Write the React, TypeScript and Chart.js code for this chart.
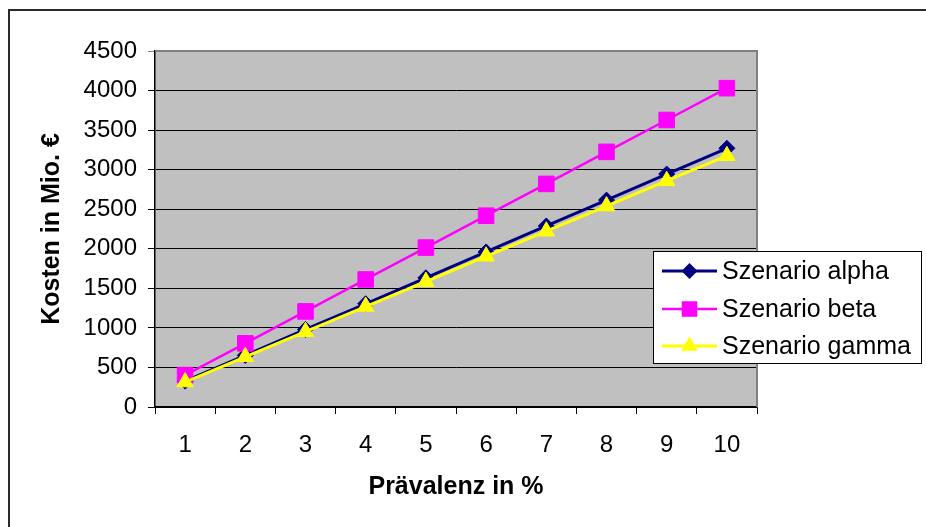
import React, { useEffect, useRef } from 'react';
import { Chart, registerables } from 'chart.js';

Chart.register(...registerables);

const categories = ['1', '2', '3', '4', '5', '6', '7', '8', '9', '10'];
const alphaValues = [327, 652, 980, 1305, 1633, 1960, 2288, 2615, 2945, 3270];
const betaValues = [403, 805, 1208, 1612, 2015, 2418, 2820, 3225, 3628, 4030];
const gammaValues = [315, 635, 952, 1270, 1585, 1905, 2222, 2540, 2860, 3175];
const yTicks = [0, 500, 1000, 1500, 2000, 2500, 3000, 3500, 4000, 4500];
const seriesNames = ['Szenario alpha', 'Szenario beta', 'Szenario gamma'];

const FONT = "'Liberation Sans', Arial, sans-serif";

export default function App() {
  const ref = useRef<HTMLCanvasElement>(null);

  useEffect(() => {
    if (!ref.current) return;

    const plotBg = {
      id: 'plotBg',
      beforeDraw(chart: any) {
        const { ctx, chartArea: a } = chart;
        ctx.save();
        ctx.fillStyle = '#C0C0C0';
        ctx.fillRect(a.left, a.top, a.right - a.left, a.bottom - a.top);
        ctx.restore();
      },
      beforeDatasetsDraw(chart: any) {
        const { ctx, chartArea: a } = chart;
        ctx.save();
        ctx.strokeStyle = '#808080';
        ctx.lineWidth = 2;
        ctx.beginPath();
        ctx.moveTo(a.left, a.top);
        ctx.lineTo(a.right, a.top);
        ctx.lineTo(a.right, a.bottom);
        ctx.stroke();
        ctx.restore();
      },
    };

    const drawMarker = (ctx: CanvasRenderingContext2D, style: string, x: number, y: number, r: number, color: string) => {
      ctx.fillStyle = color;
      ctx.beginPath();
      if (style === 'rectRot') {
        ctx.moveTo(x, y - r);
        ctx.lineTo(x + r, y);
        ctx.lineTo(x, y + r);
        ctx.lineTo(x - r, y);
      } else if (style === 'rect') {
        const s = r * Math.SQRT1_2;
        ctx.rect(x - s, y - s, 2 * s, 2 * s);
      } else {
        ctx.moveTo(x, y - r);
        ctx.lineTo(x + r * Math.sin(Math.PI / 3), y + r / 2);
        ctx.lineTo(x - r * Math.sin(Math.PI / 3), y + r / 2);
      }
      ctx.closePath();
      ctx.fill();
    };

    const customLegend = {
      id: 'customLegend',
      afterDraw(chart: any) {
        const { ctx } = chart;
        const left = 653, top = 251, right = 922, bottom = 364;
        ctx.save();
        ctx.fillStyle = '#FFFFFF';
        ctx.fillRect(left, top, right - left, bottom - top);
        ctx.strokeStyle = '#000000';
        ctx.lineWidth = 1;
        ctx.strokeRect(left + 0.5, top + 0.5, right - left - 1, bottom - top - 1);
        const rows = [271, 309, 346];
        chart.data.datasets.forEach((ds: any, i: number) => {
          const y = rows[i];
          ctx.strokeStyle = ds.borderColor;
          ctx.lineWidth = ds.borderWidth;
          ctx.beginPath();
          ctx.moveTo(662, y);
          ctx.lineTo(717, y);
          ctx.stroke();
          drawMarker(ctx, ds.pointStyle, 689.5, y, ds.pointRadius, ds.pointBackgroundColor);
          ctx.fillStyle = '#000000';
          ctx.font = `25px ${FONT}`;
          ctx.textBaseline = 'middle';
          ctx.textAlign = 'left';
          ctx.fillText(ds.label, 722, y + 1);
        });
        ctx.restore();
      },
    };

    const chart = new Chart(ref.current, {
      type: 'line',
      data: {
        labels: categories,
        datasets: [
          {
            label: seriesNames[0],
            data: alphaValues,
            borderColor: '#000080',
            backgroundColor: '#000080',
            pointBackgroundColor: '#000080',
            pointBorderColor: '#000080',
            borderWidth: 3,
            pointStyle: 'rectRot',
            pointRadius: 8,
            pointBorderWidth: 1,
            order: 2,
          },
          {
            label: seriesNames[1],
            data: betaValues,
            borderColor: '#FF00FF',
            backgroundColor: '#FF00FF',
            pointBackgroundColor: '#FF00FF',
            pointBorderColor: '#FF00FF',
            borderWidth: 2.5,
            pointStyle: 'rect',
            pointRadius: 11,
            pointBorderWidth: 1,
            order: 1,
          },
          {
            label: seriesNames[2],
            data: gammaValues,
            borderColor: '#FFFF00',
            backgroundColor: '#FFFF00',
            pointBackgroundColor: '#FFFF00',
            pointBorderColor: '#FFFF00',
            borderWidth: 3,
            pointStyle: 'triangle',
            pointRadius: 9.5,
            pointBorderWidth: 1,
            order: 0,
          },
        ],
      },
      options: {
        responsive: false,
        animation: false,
        devicePixelRatio: 1,
        layout: { padding: { top: 51, right: 169, bottom: 0, left: 0 } },
        plugins: {
          legend: { display: false },
          tooltip: { enabled: false },
        },
        scales: {
          x: {
            type: 'category',
            offset: true,
            grid: {
              offset: true,
              drawOnChartArea: false,
              color: '#000000',
              tickLength: 7,
              lineWidth: 1,
            },
            border: { color: '#000000', width: 1.5 },
            ticks: {
              font: { family: FONT, size: 24 },
              color: '#000000',
              padding: 17,
              maxRotation: 0,
              autoSkip: false,
            },
            title: {
              display: true,
              text: 'Prävalenz in %',
              font: { family: FONT, size: 25, weight: 'bold' },
              color: '#000000',
              padding: { top: 0, bottom: 25 },
            },
            afterFit(s: any) {
              s.height = 120;
            },
          },
          y: {
            min: 0,
            max: 4500,
            afterBuildTicks(s: any) {
              s.ticks = yTicks.map((v) => ({ value: v }));
            },
            grid: {
              color: (c: any) => (c.tick && c.tick.value === 4500 ? '#808080' : '#000000'),
              tickLength: 7,
              lineWidth: 1,
            },
            border: { color: '#000000', width: 1.5 },
            ticks: {
              font: { family: FONT, size: 24 },
              color: '#000000',
              padding: 11,
              callback: (v: any) => String(v),
            },
            title: {
              display: true,
              text: 'Kosten in Mio. €',
              font: { family: FONT, size: 25, weight: 'bold' },
              color: '#000000',
              padding: { top: 37, bottom: 0 },
            },
            afterFit(s: any) {
              s.width = 155;
            },
          },
        },
      },
      plugins: [plotBg, customLegend],
    } as any);

    return () => chart.destroy();
  }, []);

  return (
    <div
      style={{
        position: 'fixed',
        left: 0,
        top: 0,
        width: 926,
        height: 527,
        overflow: 'hidden',
        background: '#FFFFFF',
      }}
    >
      <div
        style={{
          position: 'absolute',
          left: 8,
          top: 9,
          width: 980,
          height: 580,
          border: '2px solid #2a2a2a',
          boxSizing: 'border-box',
        }}
      />
      <canvas
        ref={ref}
        width={926}
        height={527}
        style={{ position: 'absolute', left: 0, top: 0, width: 926, height: 527 }}
      />
    </div>
  );
}
